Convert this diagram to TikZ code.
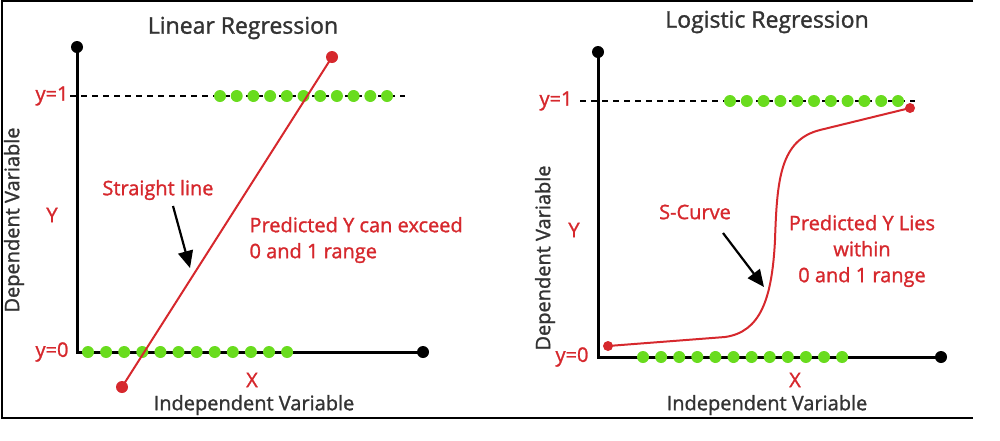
\documentclass[tikz,border=0pt]{standalone}
\usepackage{fontspec}
\setmainfont{Open Sans}
\newfontfamily\semi[FakeBold=1.3]{Open Sans}
\usetikzlibrary{arrows.meta}
\definecolor{rd}{RGB}{214,40,45}
\definecolor{gr}{RGB}{105,220,30}
\begin{document}
\begin{tikzpicture}[x=1pt,y=-1pt,
  axis/.style={line width=3pt,black},
  bdot/.style={circle,fill=black,inner sep=0pt,minimum size=12pt},
  rdot/.style={circle,fill=rd,inner sep=0pt,minimum size=12pt},
  gdot/.style={circle,fill=gr,inner sep=0pt,minimum size=12pt},
  lab/.style={text=rd,font=\semi\fontsize{20}{26}\selectfont},
  ttl/.style={text=black!80,font=\semi\fontsize{23}{26}\selectfont},
  gry/.style={text=black!80,font=\semi\fontsize{20}{24}\selectfont},
  arr/.style={-{Triangle[width=15pt,length=17pt]},line width=2.2pt}]
\useasboundingbox (0,0) rectangle (1000,440);
\draw[line width=2pt] (973,1) -- (2,1) -- (2,418) -- (973,418);
% ---------- Linear ----------
\node[ttl] (t1) at (243,28) {Linear Regression};
\coordinate (lo) at (77,352);
\draw[axis] (77,47) -- (lo) -- (423,352);
\node[bdot] (ly) at (77,47) {};
\node[bdot] (lx) at (423,352) {};
\coordinate (ld1) at (70,96); \coordinate (ld2) at (405,96);
\draw[line width=1.6pt,dash pattern=on 6pt off 5pt] (ld1) -- (ld2);
\foreach \i in {0,...,10} \node[gdot] at (220+16.7*\i,96) {};
\foreach \i in {0,...,11} \node[gdot] at (88+18.1*\i,352) {};
\draw[rd,line width=2pt] (122,387) -- (332,57);
\node[rdot] (la) at (122,387) {};
\node[rdot] (lb) at (332,57) {};
\node[lab,anchor=east] (l1) at (72,96) {y=1};
\node[lab,anchor=east] (l0) at (72,352) {y=0};
\node[lab] (lY) at (52,215) {Y};
\node[lab] (lX) at (252,380) {X};
\node[gry] (liv) at (254,405) {Independent Variable};
\node[gry,rotate=90] (ldv) at (14,220) {Dependent Variable};
\node[lab] (sl) at (158,190) {Straight line};
\coordinate (sa) at (190,268);
\draw[arr] (173,206) -- (sa);
\node[lab,anchor=west,align=left] (pl) at (246,240) {Predicted Y can exceed\\0 and 1 range};
% ---------- Logistic ----------
\node[ttl] (t2) at (767,22) {Logistic Regression};
\coordinate (ro) at (598,357);
\draw[axis] (598,52) -- (ro) -- (941,357);
\node[bdot] (ry) at (598,52) {};
\node[bdot] (rx) at (941,357) {};
\draw[line width=1.6pt,dash pattern=on 6pt off 5pt] (580,101) -- (915,101);
\foreach \i in {0,...,10} \node[gdot] at (730+16.8*\i,101) {};
\foreach \i in {0,...,11} \node[gdot] at (643+18.1*\i,357) {};
\draw[rd,line width=2pt] (608,346) -- (725,337) .. controls (760,332) and (772,300) .. (775,240)
  .. controls (777,180) and (780,140) .. (820,130) -- (910,108);
\node[rdot,minimum size=10pt] (ra) at (608,346) {};
\node[rdot,minimum size=10pt] (rb) at (910,108) {};
\node[lab,anchor=east] (r1) at (576,101) {y=1};
\node[lab,anchor=east] (r0) at (592,357) {y=0};
\node[lab] (rY) at (574,230) {Y};
\node[lab] (rX) at (795,380) {X};
\node[gry] (riv) at (767,405) {Independent Variable};
\node[gry,rotate=90] (rdv) at (545,258) {Dependent Variable};
\node[lab] (sc) at (695,212) {S-Curve};
\coordinate (ca) at (764,287);
\draw[arr] (723,233) -- (ca);
\node[lab,align=center] (pr) at (862,251) {Predicted Y Lies\\within\\0 and 1 range};
\end{tikzpicture}
\end{document}
